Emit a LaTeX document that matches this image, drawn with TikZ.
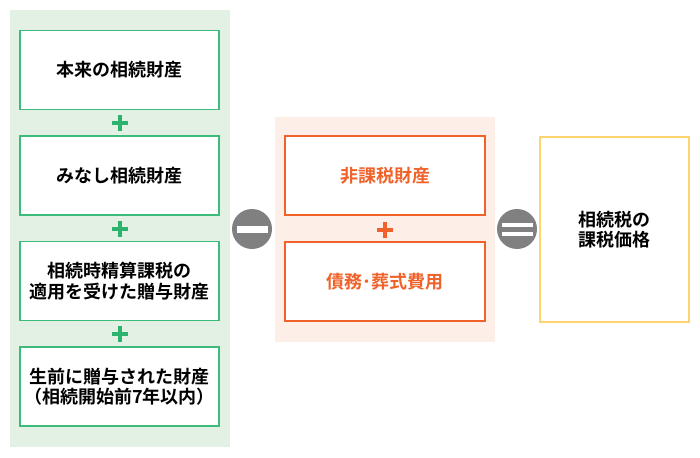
\documentclass[tikz,border=0pt]{standalone}
\usepackage{fontspec}
\setmainfont{Noto Sans CJK JP}[BoldFont={Noto Sans CJK JP Bold}]
\definecolor{gbg}{HTML}{E3F1E4}
\definecolor{gline}{HTML}{3DBB7A}
\definecolor{gplus}{HTML}{2DB36E}
\definecolor{obg}{HTML}{FDEEE7}
\definecolor{oline}{HTML}{F0622A}
\definecolor{yline}{HTML}{FFD46E}
\definecolor{opgrey}{HTML}{808080}
\tikzset{
  gbox/.style={draw=gline, line width=1.1pt, fill=white, minimum width=199pt, minimum height=79pt, inner sep=0pt, align=center, font=\fontsize{18}{20.5}\selectfont\bfseries, text=black},
  obox/.style={draw=oline, line width=1.1pt, fill=white, minimum width=200pt, minimum height=79pt, inner sep=0pt, align=center, font=\fontsize{18}{20.5}\selectfont\bfseries, text=oline},
  ybox/.style={draw=yline, line width=1.1pt, fill=white, minimum width=149pt, minimum height=185pt, inner sep=0pt, align=center, font=\fontsize{18}{20.5}\selectfont\bfseries, text=black},
  opcirc/.style={circle, fill=opgrey, minimum size=40pt, inner sep=0pt},
  plusbar/.style={line width=4pt},
}
\begin{document}
\begin{tikzpicture}[x=1pt,y=-1pt]
\useasboundingbox (0,0) rectangle (700,457);
\fill[white] (0,0) rectangle (700,457);
% backgrounds
\fill[gbg] (10,10) rectangle (230,447);
\fill[obg] (275,117) rectangle (495,342);
% left boxes
\node[gbox] (a1) at (119.5,70) {本来の相続財産};
\node[gbox] (a2) at (119.5,175.5) {みなし相続財産};
\node[gbox] (a3) at (119.5,281) {相続時精算課税の\\適用を受けた贈与財産};
\node[gbox] (a4) at (119.5,386.5) {生前に贈与された財産\\（相続開始前7年以内）};
% green pluses
\foreach \y/\n in {123.5/p1,229/p2,334/p3}{
  \coordinate (\n) at (120,\y);
  \draw[gplus,plusbar] ([xshift=-8pt]\n) -- ([xshift=8pt]\n);
  \draw[gplus,plusbar] ([yshift=-8pt]\n) -- ([yshift=8pt]\n);
}
% minus circle
\node[opcirc] (minus) at (252,229) {};
\fill[white] ([xshift=-15.5pt,yshift=-3.5pt]minus.center) rectangle ([xshift=15.5pt,yshift=3.5pt]minus.center);
% middle boxes
\node[obox] (b1) at (385,175.5) {非課税財産};
\node[obox] (b2) at (385,281.5) {債務･葬式費用};
\coordinate (p4) at (385,230);
\draw[oline,plusbar] ([xshift=-8pt]p4) -- ([xshift=8pt]p4);
\draw[oline,plusbar] ([yshift=-8pt]p4) -- ([yshift=8pt]p4);
% equals circle
\node[opcirc] (eq) at (517,229) {};
\fill[white] ([xshift=-15.5pt,yshift=-6.5pt]eq.center) rectangle ([xshift=15.5pt,yshift=-2.5pt]eq.center);
\fill[white] ([xshift=-15.5pt,yshift=2.5pt]eq.center) rectangle ([xshift=15.5pt,yshift=6.5pt]eq.center);
% result box
\node[ybox] (c1) at (614.5,229.5) {相続税の\\課税価格};
\end{tikzpicture}
\end{document}
